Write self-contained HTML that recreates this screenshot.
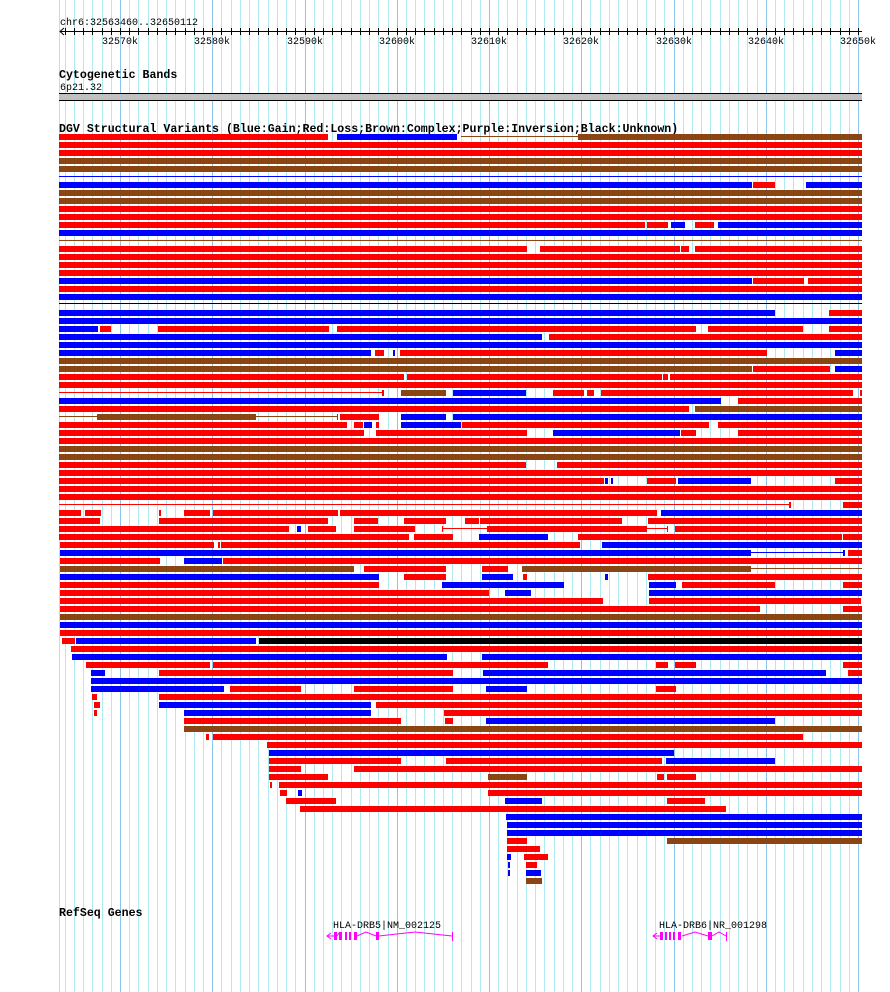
<!DOCTYPE html>
<html><head><meta charset="utf-8">
<style>
html,body{margin:0;padding:0;background:#fff;}
svg{display:block;}
.t{font-family:"Liberation Mono",monospace;font-size:10px;fill:#000;}
.b{font-family:"Liberation Mono",monospace;font-size:11.6px;font-weight:bold;fill:#000;}
</style></head>
<body>
<svg id="s" xmlns="http://www.w3.org/2000/svg" width="890" height="992" viewBox="0 0 890 992">
<g id="grid"></g>
<g id="ruler"></g>
<text class="t" x="60" y="25">chr6:32563460..32650112</text>
<text class="b" x="59" y="78">Cytogenetic Bands</text>
<text class="t" x="60" y="90">6p21.32</text>
<rect x="59" y="93" width="803" height="1" fill="#000"/>
<rect x="59" y="94" width="803" height="6" fill="#c0c0c0"/>
<rect x="59" y="100" width="803" height="1" fill="#000"/>
<text class="b" x="59" y="132">DGV Structural Variants (Blue:Gain;Red:Loss;Brown:Complex;Purple:Inversion;Black:Unknown)</text>
<rect x="59" y="303" width="803" height="1" fill="#000"/>
<g id="bars"></g>
<text class="b" x="59" y="916">RefSeq Genes</text>
<text class="t" x="333" y="928">HLA-DRB5|NM_002125</text>
<text class="t" x="659" y="928">HLA-DRB6|NR_001298</text>
<g fill="#ff00ff" stroke="#ff00ff">
<polyline fill="none" stroke-width="1" points="327,936 334,936"/>
<polyline fill="none" stroke-width="1" points="331,933 327,936 331,939"/>
<rect x="334" y="932" width="3" height="8" stroke="none"/>
<rect x="339" y="932" width="3" height="8" stroke="none"/>
<rect x="345" y="932" width="2" height="8" stroke="none"/>
<rect x="349" y="932" width="2" height="8" stroke="none"/>
<rect x="354" y="932" width="3" height="8" stroke="none"/>
<polyline fill="none" stroke-width="1" points="337,936 339,933 340,936"/>
<polyline fill="none" stroke-width="1" points="357,936 366,932 376,936"/>
<rect x="376" y="932" width="3" height="8" stroke="none"/>
<polyline fill="none" stroke-width="1" points="379,936 415,932 452,936"/>
<rect x="452" y="932" width="1" height="9" stroke="none"/>
<polyline fill="none" stroke-width="1" points="653,936 660,936"/>
<polyline fill="none" stroke-width="1" points="657,933 653,936 657,939"/>
<rect x="660" y="932" width="3" height="8" stroke="none"/>
<rect x="665" y="932" width="2" height="8" stroke="none"/>
<rect x="669" y="932" width="2" height="8" stroke="none"/>
<rect x="673" y="932" width="2" height="8" stroke="none"/>
<rect x="678" y="932" width="3" height="8" stroke="none"/>
<polyline fill="none" stroke-width="1" points="682,936 695,932 708,936"/>
<rect x="708" y="932" width="4" height="8" stroke="none"/>
<polyline fill="none" stroke-width="1" points="712,936 719,932 726,936"/>
<rect x="726" y="932" width="1" height="9" stroke="none"/>
</g>
</svg>
<script>
var NS="http://www.w3.org/2000/svg";
function el(p,n,a){var e=document.createElementNS(NS,n);for(var k in a)e.setAttribute(k,a[k]);p.appendChild(e);return e;}
var g=document.getElementById('grid'),r=document.getElementById('ruler'),b=document.getElementById('bars');
function X(k){return 120+(k-32570)*9.225;}
el(g,'rect',{x:59,y:0,width:1,height:992,fill:'#aee6ee'});
for(var k=32564;k<=32650;k++){var x=Math.round(X(k));var maj=(k%10==0);
 el(g,'rect',{x:x,y:0,width:1,height:992,fill:maj?'#8cc4ea':'#aeeaf0'});
 el(r,'rect',{x:x,y:28,width:1,height:7,fill:'#000'});
 if(maj){var t=el(r,'text',{x:x,y:44,'class':'t','text-anchor':'middle'});t.textContent=k+'k';}
}
el(r,'rect',{x:60,y:31,width:802,height:1,fill:'#000'});
el(r,'polyline',{points:'64,28 60,31.5 64,35',fill:'none',stroke:'#000','stroke-width':1});
var C={r:'#ff0000',u:'#0000ff',n:'#8b4513',k:'#000000'};
var F=59,E=862;
var rows=[
[134,[[59,328,'r'],[337,457,'u'],[461,578,'nl'],[578,E,'n']]],
[142,[[F,E,'r']]],[150,[[F,E,'r']]],[158,[[F,E,'n']]],[166,[[F,E,'n']]],
[174,[[F,E,'ul']]],
[182,[[F,752,'u'],[753,775,'r'],[806,E,'u']]],
[190,[[F,E,'n']]],[198,[[F,E,'n']]],[206,[[F,E,'r']]],[214,[[F,E,'r']]],
[222,[[F,645,'r'],[647,668,'r'],[671,685,'u'],[695,714,'r'],[718,E,'u']]],
[230,[[F,E,'u']]],[238,[[F,E,'nl']]],
[246,[[F,527,'r'],[540,680,'r'],[681,689,'r'],[695,E,'r']]],
[254,[[F,E,'r']]],[262,[[F,E,'r']]],[270,[[F,E,'r']]],
[278,[[F,752,'u'],[753,804,'r'],[808,E,'r']]],
[286,[[F,E,'r']]],[294,[[F,E,'u']]],
[310,[[F,775,'u'],[829,E,'r']]],
[318,[[F,E,'u']]],
[326,[[F,98,'u'],[100,111,'r'],[158,329,'r'],[337,696,'r'],[708,803,'r'],[829,E,'r']]],
[334,[[F,542,'u'],[549,E,'r']]],
[342,[[F,E,'u']]],
[350,[[F,371,'u'],[375,384,'r'],[393,395,'u'],[400,767,'r'],[835,E,'u']]],
[358,[[F,E,'n']]],
[366,[[F,752,'n'],[753,830,'r'],[835,E,'u']]],
[374,[[F,404,'r'],[407,662,'r'],[663,668,'r'],[670,E,'r']]],
[382,[[F,E,'r']]],
[390,[[F,383,'rl'],[382,384,'r'],[401,446,'n'],[453,526,'u'],[553,584,'r'],[587,594,'r'],[601,853,'r'],[860,E,'r']]],
[398,[[F,721,'u'],[738,E,'r']]],
[406,[[F,689,'r'],[695,E,'n']]],
[414,[[F,338,'nl'],[97,256,'n'],[337,338,'n'],[340,379,'r'],[401,446,'u'],[453,E,'u']]],
[422,[[F,347,'r'],[354,363,'r'],[364,372,'u'],[376,379,'r'],[401,461,'u'],[462,709,'r'],[718,E,'r']]],
[430,[[F,364,'r'],[376,527,'r'],[553,680,'u'],[681,696,'r'],[738,E,'r']]],
[438,[[F,E,'r']]],[446,[[F,E,'n']]],[454,[[F,E,'n']]],
[462,[[F,526,'r'],[557,E,'r']]],
[470,[[F,E,'r']]],
[478,[[F,604,'r'],[605,608,'u'],[611,613,'u'],[647,676,'r'],[678,751,'u'],[835,E,'r']]],
[486,[[F,E,'r']]],[494,[[F,E,'r']]],
[502,[[F,790,'rl'],[789,791,'r'],[843,E,'r']]],
[510,[[F,81,'r'],[85,101,'r'],[159,161,'r'],[184,210,'r'],[213,338,'r'],[340,657,'r'],[661,E,'u']]],
[518,[[F,100,'r'],[159,328,'r'],[354,378,'r'],[404,446,'r'],[465,479,'r'],[480,622,'r'],[648,E,'r']]],
[526,[[F,289,'r'],[297,301,'u'],[308,336,'r'],[354,415,'r'],[442,487,'rl'],[442,443,'r'],[487,647,'r'],[647,667,'rl'],[667,668,'r'],[675,E,'r']]],
[534,[[F,409,'r'],[414,453,'r'],[479,548,'u'],[578,842,'r'],[843,E,'r']]],
[542,[[60,214,'r'],[218,220,'r'],[221,580,'r'],[602,E,'u']]],
[550,[[60,751,'u'],[751,843,'ul'],[843,845,'u'],[848,E,'r']]],
[558,[[60,160,'r'],[184,222,'u'],[223,E,'r']]],
[566,[[60,354,'n'],[364,446,'r'],[482,508,'r'],[522,751,'n'],[751,E,'nl']]],
[574,[[60,379,'u'],[404,446,'r'],[482,513,'u'],[523,527,'r'],[605,608,'u'],[648,E,'r']]],
[582,[[60,379,'r'],[442,564,'u'],[649,676,'u'],[682,775,'r'],[843,E,'r']]],
[590,[[60,489,'r'],[505,531,'u'],[649,E,'u']]],
[598,[[60,603,'r'],[649,861,'r']]],
[606,[[60,760,'r'],[843,E,'r']]],
[614,[[60,E,'n']]],[622,[[60,E,'u']]],[630,[[60,E,'r']]],
[638,[[62,75,'r'],[76,256,'u'],[259,E,'k']]],
[646,[[71,E,'r']]],
[654,[[72,447,'u'],[482,E,'u']]],
[662,[[86,210,'r'],[213,548,'r'],[656,668,'r'],[675,696,'r'],[843,E,'r']]],
[670,[[91,105,'u'],[159,453,'r'],[483,826,'u'],[848,E,'r']]],
[678,[[91,E,'u']]],
[686,[[91,224,'u'],[230,301,'r'],[354,453,'r'],[486,527,'u'],[656,676,'r']]],
[694,[[92,97,'r'],[159,E,'r']]],
[702,[[94,100,'r'],[159,371,'u'],[376,E,'r']]],
[710,[[94,97,'r'],[184,371,'u'],[444,E,'r']]],
[718,[[184,401,'r'],[445,453,'r'],[486,775,'u']]],
[726,[[184,E,'n']]],
[734,[[206,209,'r'],[213,803,'r']]],
[742,[[267,E,'r']]],
[750,[[269,674,'u']]],
[758,[[269,401,'r'],[446,662,'r'],[666,775,'u']]],
[766,[[269,301,'r'],[354,E,'r']]],
[774,[[269,328,'r'],[488,527,'n'],[657,664,'r'],[667,696,'r']]],
[782,[[270,272,'r'],[279,E,'r']]],
[790,[[280,287,'r'],[298,302,'u'],[488,E,'r']]],
[798,[[286,336,'r'],[505,542,'u'],[667,705,'r']]],
[806,[[300,726,'r']]],
[814,[[506,E,'u']]],[822,[[507,E,'u']]],[830,[[507,E,'u']]],
[838,[[507,527,'r'],[667,E,'n']]],
[846,[[507,540,'r']]],
[854,[[507,511,'u'],[524,548,'r']]],
[862,[[508,510,'u'],[526,537,'r']]],
[870,[[508,510,'u'],[526,541,'u']]],
[878,[[526,542,'n']]]
];
rows.forEach(function(row){var y=row[0];row[1].forEach(function(s){
 var c=C[s[2][0]],line=s[2].length>1;
 if(line) el(b,'rect',{x:s[0],y:y+2,width:s[1]-s[0],height:1,fill:c});
 else el(b,'rect',{x:s[0],y:y,width:Math.max(1,s[1]-s[0]),height:6,fill:c});
});});
</script>
</body></html>
